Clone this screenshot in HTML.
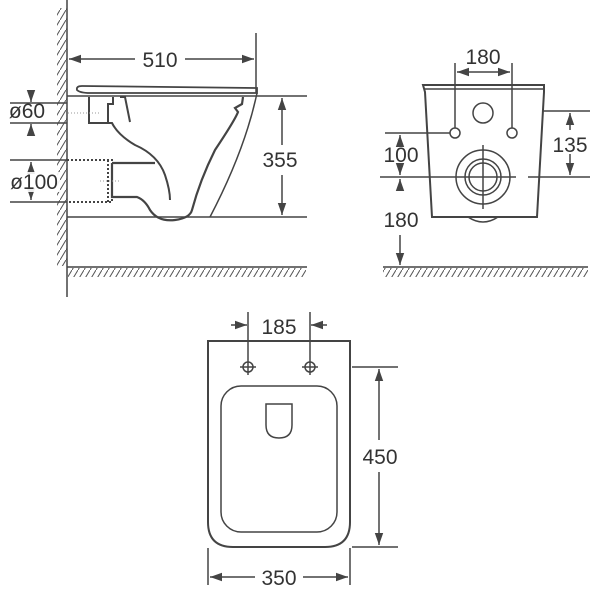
<!DOCTYPE html>
<html><head><style>body{margin:0;background:#fff}svg{display:block}</style></head><body>
<svg width="600" height="600" viewBox="0 0 600 600" xmlns="http://www.w3.org/2000/svg">
<defs>
<pattern id="h" width="6" height="10" patternUnits="userSpaceOnUse"><path d="M0 10 L6 0" stroke="#555" stroke-width="1"/></pattern>
<marker id="a" viewBox="0 0 10 10" refX="10" refY="5" markerWidth="8" markerHeight="8" orient="auto-start-reverse"><path d="M0 1.5 L10 5 L0 8.5Z" fill="#444"/></marker>
</defs>
<g font-family="Liberation Sans, sans-serif" font-size="21" fill="#333" text-anchor="middle">
<!-- LEFT VIEW -->
<rect x="57" y="8" width="10" height="258" fill="url(#h)"/>
<rect x="68" y="268" width="238" height="9" fill="url(#h)"/>
<g stroke="#444" stroke-width="1.5" fill="none">
<line x1="67" y1="0" x2="67" y2="297"/>
<line x1="67" y1="267" x2="307" y2="267"/>
<line x1="67" y1="96" x2="307" y2="96"/>
<line x1="67" y1="217" x2="307" y2="217"/>
<line x1="256" y1="33" x2="256" y2="93"/>
<line x1="69" y1="59" x2="135" y2="59" marker-start="url(#a)"/>
<line x1="185" y1="59" x2="254" y2="59" marker-end="url(#a)"/>
<line x1="282" y1="98" x2="282" y2="145" marker-start="url(#a)"/>
<line x1="282" y1="175" x2="282" y2="215" marker-end="url(#a)"/>
<line x1="10" y1="103" x2="67" y2="103"/><line x1="10" y1="123" x2="67" y2="123"/>
<line x1="31" y1="90" x2="31" y2="102" marker-end="url(#a)"/><line x1="31" y1="136" x2="31" y2="124" marker-end="url(#a)"/>
<line x1="10" y1="160" x2="67" y2="160"/><line x1="10" y1="202" x2="67" y2="202"/>
<line x1="31" y1="170" x2="31" y2="162" marker-end="url(#a)"/><line x1="31" y1="192" x2="31" y2="200" marker-end="url(#a)"/>
<path d="M77 90 Q76 86 82 86 L257 88 L257 93 L90 93 Q80 93 77 90Z" stroke-width="1.8"/>
<path d="M89 97 V123 H108 V104 H113 V97" stroke-width="2"/>
<path d="M120 97 L125 97 L130 122" stroke-width="2"/>
<path d="M108 123 H112 Q118 135 135 145 Q158 155 165 175 Q170 190 170 200" stroke-width="2"/>
<path d="M112 163 H155 M112 163 V197 H137 Q145 200 150 210 Q158 222 175 220 Q190 218 192 210 Q200 180 215 150 Q235 120 238 112 L235 108 L242 104 L243 97" stroke-width="2.2"/>
<path d="M257 93 Q245 150 210 217" stroke-width="1.5"/>
<g stroke-dasharray="2 2" stroke-width="2"><path d="M67 160 H112 V202 H67"/><path d="M108 160 V202"/></g>
<g stroke="#999" stroke-dasharray="1 2" stroke-width="1"><line x1="68" y1="113" x2="100" y2="113"/><line x1="100" y1="181" x2="120" y2="181"/></g>
</g>
<rect x="135" y="48" width="50" height="22" fill="#fff"/><text x="160" y="67">510</text>
<rect x="262" y="145" width="40" height="30" fill="#fff"/><text x="280" y="167">355</text>
<text x="27" y="118">ø60</text>
<rect x="10" y="172" width="50" height="20" fill="#fff" opacity="0.9"/><text x="34" y="189">ø100</text>
<!-- RIGHT VIEW -->
<rect x="383" y="268" width="205" height="9" fill="url(#h)"/>
<g stroke="#444" stroke-width="1.5" fill="none">
<line x1="383" y1="267" x2="588" y2="267"/>
<path d="M423 85 H544 V92 L537 217 H432 L425 92 Z" stroke-width="2"/>
<line x1="424" y1="89" x2="544" y2="89"/>
<path d="M468 217 Q483 227 498 217"/>
<circle cx="483" cy="113" r="10"/>
<circle cx="455" cy="133" r="5"/><circle cx="512" cy="133" r="5"/>
<line x1="455" y1="63" x2="455" y2="128"/><line x1="512" y1="63" x2="512" y2="128"/>
<line x1="457" y1="72" x2="510" y2="72" marker-start="url(#a)" marker-end="url(#a)"/>
<circle cx="483" cy="177" r="27"/><circle cx="483" cy="177" r="18"/><circle cx="483" cy="177" r="14"/>
<line x1="483" y1="145" x2="483" y2="209"/><line x1="450" y1="177" x2="516" y2="177"/>
<line x1="385" y1="133" x2="450" y2="133"/>
<line x1="380" y1="177" x2="450" y2="177"/><line x1="528" y1="177" x2="590" y2="177"/>
<line x1="543" y1="111" x2="590" y2="111"/>
<line x1="570" y1="113" x2="570" y2="175" marker-start="url(#a)" marker-end="url(#a)"/>
<line x1="400" y1="145" x2="400" y2="135" marker-end="url(#a)"/><line x1="400" y1="167" x2="400" y2="175" marker-end="url(#a)"/>
<line x1="400" y1="185" x2="400" y2="179" marker-end="url(#a)"/><line x1="400" y1="235" x2="400" y2="265" marker-end="url(#a)"/>
</g>
<text x="483" y="64">180</text>
<rect x="548" y="130" width="44" height="24" fill="#fff"/><text x="570" y="152">135</text>
<text x="401" y="162">100</text>
<text x="401" y="227">180</text>
<!-- BOTTOM VIEW -->
<g stroke="#444" stroke-width="1.5" fill="none">
<path d="M208 341 H350 V522 Q350 547 325 547 H233 Q208 547 208 522 Z" stroke-width="2"/>
<rect x="221" y="386" width="116" height="146" rx="20"/>
<path d="M266 404 H292 V425 Q292 438 279 438 Q266 438 266 425 Z"/>
<line x1="248" y1="312" x2="248" y2="375"/><line x1="310" y1="312" x2="310" y2="375"/>
<circle cx="248" cy="367" r="5"/><circle cx="310" cy="367" r="5"/>
<line x1="240" y1="367" x2="256" y2="367"/><line x1="302" y1="367" x2="318" y2="367"/>
<line x1="231" y1="325" x2="247" y2="325" marker-end="url(#a)"/><line x1="327" y1="325" x2="311" y2="325" marker-end="url(#a)"/>
<line x1="352" y1="367" x2="398" y2="367"/><line x1="352" y1="547" x2="398" y2="547"/>
<line x1="379" y1="369" x2="379" y2="440" marker-start="url(#a)"/><line x1="379" y1="472" x2="379" y2="545" marker-end="url(#a)"/>
<line x1="208" y1="548" x2="208" y2="585"/><line x1="350" y1="548" x2="350" y2="585"/>
<line x1="210" y1="577" x2="255" y2="577" marker-start="url(#a)"/><line x1="303" y1="577" x2="348" y2="577" marker-end="url(#a)"/>
</g>
<text x="279" y="334">185</text>
<text x="380" y="464">450</text>
<text x="279" y="585">350</text>
</g>
</svg>
</body></html>
